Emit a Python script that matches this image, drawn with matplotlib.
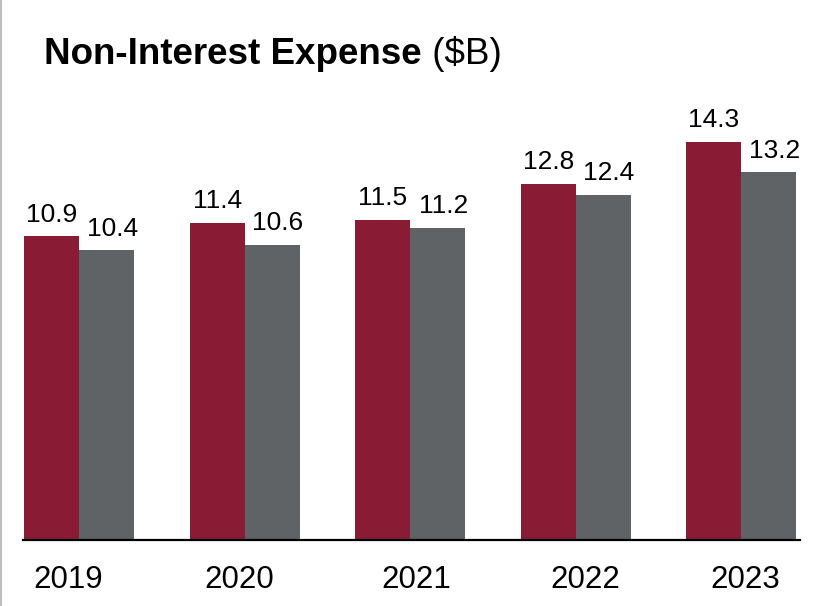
import matplotlib
matplotlib.use("Agg")
import matplotlib.pyplot as plt
import matplotlib.transforms as mtransforms
import numpy as np

plt.rcParams['font.family'] = ['Liberation Sans', 'DejaVu Sans']

# ---------------- data ----------------
years = ["2019", "2020", "2021", "2022", "2023"]
expense_a = [10.9, 11.4, 11.5, 12.8, 14.3]
expense_b = [10.4, 10.6, 11.2, 12.4, 13.2]

RED = "#8A1B35"
GRAY = "#5F6366"

W, H = 821, 606
fig = plt.figure(figsize=(W / 100, H / 100), dpi=100)

# axes in pixel terms: baseline at y=540, spans x=23..800
ax = fig.add_axes([23 / W, (H - 540) / H, 777 / W, 440 / H])
x = np.arange(len(years))
bw = 0.332
ax.bar(x - bw / 2, expense_a, bw, color=RED, linewidth=0)
ax.bar(x + bw / 2, expense_b, bw, color=GRAY, linewidth=0)

for xi, a, b in zip(x, expense_a, expense_b):
    ax.annotate(f"{a:.1f}", (xi - bw / 2, a), xytext=(0, 7), textcoords="offset points",
                ha="center", va="bottom", fontsize=19)
    ax.annotate(f"{b:.1f}", (xi + bw / 2, b), xytext=(4, 7), textcoords="offset points",
                ha="center", va="bottom", fontsize=19)

ax.set_xlim(-0.34, 4.355)
ax.set_ylim(0, 15.8)
for s in ["top", "right", "left"]:
    ax.spines[s].set_visible(False)
ax.spines["bottom"].set_linewidth(1.6)
ax.spines["bottom"].set_color("black")
ax.set_yticks([])
ax.set_xticks(x)
ax.set_xticklabels(years, fontsize=22.5)
ax.tick_params(axis="x", length=0, pad=18)

# year labels sit a little off the group centres (hand-placed text boxes)
nudges_px = [-11, -6, 6, 10, 4]
for lbl, dx in zip(ax.get_xticklabels(), nudges_px):
    lbl.set_transform(lbl.get_transform() +
                      mtransforms.ScaledTranslation(dx / 100, 0, fig.dpi_scale_trans))

# title: bold part then regular unit
t = fig.text(44 / W, 1 - 64 / H, "Non-Interest Expense", fontsize=26.5,
             fontweight="bold", va="baseline", ha="left")
ax.annotate(" ($B)", xy=(1, 0), xycoords=t, va="bottom", ha="left", fontsize=26.5,
            annotation_clip=False)

# thin grey frame edge on the left
fig.add_artist(plt.Line2D([0.5 / W, 0.5 / W], [0, 1], transform=fig.transFigure,
                          color="#BDBDBD", linewidth=1.5))

fig.savefig("out.png", dpi=100)
